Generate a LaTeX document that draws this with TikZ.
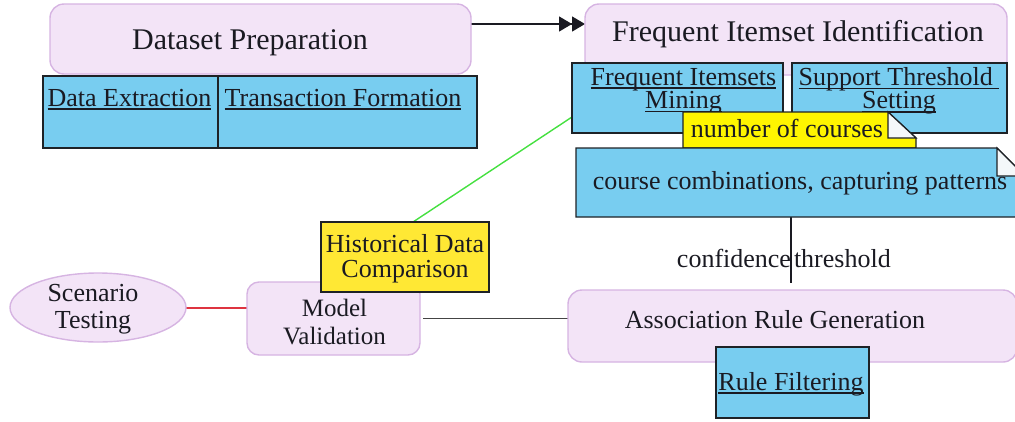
\documentclass[tikz,border=0pt]{standalone}
\usepackage{fontspec}
\setmainfont{Liberation Serif}
\usetikzlibrary{arrows.meta,shapes.geometric}

\definecolor{lavfill}{HTML}{F3E4F7}
\definecolor{lavline}{HTML}{D6B4E2}
\definecolor{boxblue}{HTML}{78CDF0}
\definecolor{boxline}{HTML}{1E2226}
\definecolor{hdyellow}{HTML}{FFE834}
\definecolor{ncyellow}{HTML}{FFF500}
\definecolor{foldwhite}{HTML}{F4F8FA}
\definecolor{inkcol}{HTML}{1A1A22}
\definecolor{linkgreen}{HTML}{45E040}
\definecolor{testlink}{RGB}{222,52,64}
\definecolor{linkgray}{HTML}{444444}

% underline at a fixed distance below the baseline
\newcommand\undl[1]{\setbox0=\hbox{#1}\rlap{\rule[-3.6pt]{\wd0}{1.2pt}}\box0}

\tikzset{
  lav/.style={draw=lavline, fill=lavfill, line width=1.4pt, rounded corners=14pt,
              inner sep=0pt, outer sep=0pt},
  bluebox/.style={draw=boxline, fill=boxblue, line width=1.4pt, inner sep=0pt, outer sep=0pt},
  hdbox/.style={draw=boxline, fill=hdyellow, line width=1.4pt, inner sep=0pt, outer sep=0pt},
  holder/.style={inner sep=0pt, outer sep=0pt},
  txt/.style={inner sep=0pt, outer sep=0pt, text=inkcol, font=\fontsize{26pt}{26pt}\selectfont},
  bigtxt/.style={txt, font=\fontsize{30pt}{30pt}\selectfont},
  link/.style={line width=1.4pt, draw=inkcol},
}

\begin{document}
\begin{tikzpicture}[x=1pt,y=-1pt]
\useasboundingbox (0,0) rectangle (1015,421);
\clip (0,0) rectangle (1015,421);

% ---------- node frames used by the links ----------
\node[holder, minimum width=421pt, minimum height=70pt] (DP) at (260.5,39) {};
\node[holder, minimum width=422pt, minimum height=71pt] (FII) at (796,39.5) {};
\node[holder, minimum width=211pt, minimum height=70pt] (FIM) at (677.5,98) {};
\node[holder, minimum width=449pt, minimum height=69pt] (CC) at (800.5,182.5) {};
\node[holder, minimum width=168pt, minimum height=70pt] (HD) at (405,257) {};
\node[holder, minimum width=173pt, minimum height=73pt] (MV) at (333.5,318.5) {};
\node[holder, ellipse, minimum width=176pt, minimum height=69pt] (ST) at (98,307.5) {};
\node[holder, minimum width=449pt, minimum height=72pt] (ARG) at (792.5,326) {};

% ---------- links (drawn first, boxes cover their ends) ----------
\draw[link, -{Triangle[length=13pt,width=15pt]Triangle[length=13pt,width=15pt]}]
  ([yshift=15pt]DP.east) -- ([yshift=15pt]DP.east -| FII.west);
\draw[line width=1.4pt, draw=linkgreen] ([xshift=8pt]HD.north) -- ([yshift=-19pt]FIM.west);
\draw[line width=2pt, draw=testlink] ([xshift=-2pt]ST.east) -- ([xshift=2pt]ST.east -| MV.west);
\draw[line width=1.4pt, draw=linkgray] ([xshift=3pt]MV.east) -- (MV.east -| ARG.west);
\draw[link] ([xshift=-9.5pt]CC.south) -- ([xshift=-9.5pt,yshift=7pt]CC.south |- ARG.north)
  node[txt, pos=0.758, anchor=base east] (conf) {confidence}
  node[txt, pos=0.758, anchor=base west, xshift=3pt] (thr) {threshold};

% ---------- Dataset Preparation ----------
\node[lav, minimum width=421pt, minimum height=70pt] at (DP) {};
\node[bigtxt, anchor=base] (DPt) at (250,49) {Dataset Preparation};
\node[bluebox, minimum width=175pt, minimum height=72pt] (DE) at (130.5,112) {};
\node[bluebox, minimum width=259pt, minimum height=72pt] (TF) at (347.5,112) {};
\node[txt, anchor=base] (DEt) at (129.5,106) {\undl{Data Extraction}};
\node[txt, anchor=base] (TFt) at (343,106) {\undl{Transaction Formation}};

% ---------- Frequent Itemset Identification ----------
\node[lav, minimum width=422pt, minimum height=71pt] at (FII) {};
\node[bigtxt, anchor=base] (FIIt) at (798,41) {Frequent Itemset Identification};
\node[bluebox, minimum width=211pt, minimum height=70pt] at (FIM) {};
\node[bluebox, minimum width=215pt, minimum height=70pt] (STS) at (899.5,98) {};
\node[txt, align=center, font=\fontsize{26pt}{20pt}\selectfont] (FIMt) at (683.5,91.2)
  {\undl{Frequent Itemsets}\\\undl{Mining}};
\node[txt, align=center, font=\fontsize{26pt}{20pt}\selectfont] (STSt) at (899,90.9)
  {\undl{Support Threshold\ }\\\undl{Setting}};

% note: number of courses
\node[holder, minimum width=233pt, minimum height=36pt] (NC) at (799.5,130) {};
\filldraw[draw=boxline, fill=ncyellow, line width=1.4pt, line join=miter]
  (NC.north west) -- ([xshift=-28pt]NC.north east) -- ([yshift=-26pt]NC.north east)
  -- (NC.south east) -- (NC.south west) -- cycle;
\filldraw[draw=boxline, fill=foldwhite, line width=1.2pt]
  ([xshift=-28pt]NC.north east) -- ([xshift=-28pt,yshift=-26pt]NC.north east)
  -- ([yshift=-26pt]NC.north east) -- cycle;
\node[txt, anchor=base] (NCt) at (787,137) {number of courses};

% note: course combinations
\filldraw[draw=boxline, fill=boxblue, line width=1.4pt, line join=miter]
  (CC.north west) -- ([xshift=-28pt]CC.north east) -- ([yshift=-28pt]CC.north east)
  -- (CC.south east) -- (CC.south west) -- cycle;
\filldraw[draw=boxline, fill=foldwhite, line width=1.2pt]
  ([xshift=-28pt]CC.north east) -- ([xshift=-28pt,yshift=-28pt]CC.north east)
  -- ([yshift=-28pt]CC.north east) -- cycle;
\node[txt, anchor=base] (CCt) at (800,189) {course combinations, capturing patterns};

% ---------- Association Rule Generation ----------
\node[lav, minimum width=449pt, minimum height=72pt] at (ARG) {};
\node[txt, anchor=base] (ARGt) at (775,328) {Association Rule Generation};
\node[bluebox, minimum width=153pt, minimum height=71pt] (RF) at (792.5,382.5) {};
\node[txt, anchor=base] (RFt) at (791,390) {\undl{Rule Filtering}};

% ---------- Model Validation ----------
\node[lav, rounded corners=12pt, minimum width=173pt, minimum height=73pt] at (MV) {};
\node[txt, align=center, font=\fontsize{25pt}{28pt}\selectfont] (MVt) at (334.5,322.2)
  {Model\\Validation};
\node[hdbox, minimum width=168pt, minimum height=70pt] at (HD) {};
\node[txt, align=center, font=\fontsize{26pt}{25pt}\selectfont] (HDt) at (405,258.6)
  {Historical Data\\Comparison};

\node[draw=lavline, fill=lavfill, line width=1.4pt, ellipse, inner sep=0pt,
      minimum width=176pt, minimum height=69pt] at (ST) {};
\node[txt, align=center, font=\fontsize{26pt}{27pt}\selectfont] (STt) at (93,309)
  {Scenario\\Testing};

\end{tikzpicture}
\end{document}
